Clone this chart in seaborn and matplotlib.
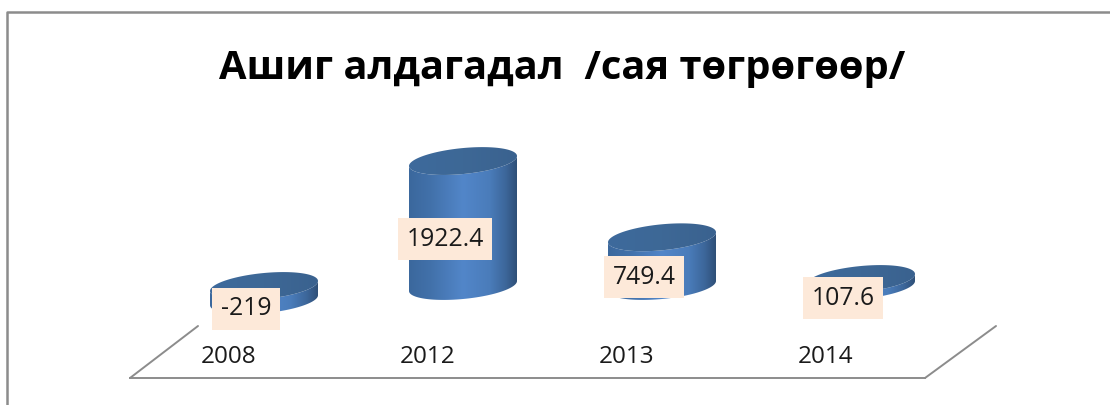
import numpy as np
import pandas as pd
import matplotlib
matplotlib.use("Agg")
import matplotlib.pyplot as plt
import seaborn as sns
from matplotlib.colors import LinearSegmentedColormap
from matplotlib.lines import Line2D
from matplotlib.patches import Polygon
from matplotlib.transforms import ScaledTranslation

years = ["2008", "2012", "2013", "2014"]
values = [-219, 1922.4, 749.4, 107.6]
title = "Ашиг алдагадал  /сая төгрөгөөр/"

W, H = 1110, 405
sns.set_theme(style="white")
plt.rcParams["font.family"] = ["Open Sans", "DejaVu Sans"]

fig = plt.figure(figsize=(W / 100, H / 100), dpi=100)
# axes frame: floor front edge is the x axis
L, R, B, T = 130, 925, 378, 100
ax = fig.add_axes([L / W, (H - B) / H, (R - L) / W, (B - T) / H])

step = 199.0      # px per category
scale = 0.065     # px per value unit
zero_y = 286
xlim = ((L - 264) / step, (R - 264) / step)
ylim = (-(B - zero_y) / scale, (zero_y - T) / scale)

df = pd.DataFrame({"year": years, "value": values})
sns.barplot(data=df, x="year", y="value", ax=ax, width=108 / step,
            color="#4f81bd", saturation=1, errorbar=None)
ax.set_xlabel("")
ax.set_ylabel("")
ax.set_yticks([])

for s in ["left", "right", "top"]:
    ax.spines[s].set_visible(False)
ax.spines["bottom"].set_color("#8c8c8c")
ax.spines["bottom"].set_linewidth(1.4)
ax.patch.set_alpha(0)

side_cmap = LinearSegmentedColormap.from_list(
    "side", [(0, "#3b689d"), (0.2, "#4271aa"), (0.5, "#5286c9"),
             (0.75, "#4a7cba"), (0.9, "#3c6699"), (1, "#2f5078")])
top_cmap = LinearSegmentedColormap.from_list(
    "top", ["#3d6a9c", "#3e6896", "#3a628f"])

ry_px, shear_px = 13.0, 5.0
ry = ry_px / scale
shear = shear_px / scale


def arc(cx, cy, a, t):
    return np.c_[cx + a * np.cos(t), cy + ry * np.sin(t) + shear * np.cos(t)]


for bar, v in zip(list(ax.patches), values):
    x0, w = bar.get_x(), bar.get_width()
    cx, a = x0 + w / 2, w / 2
    top, bot = max(v, 0), min(v, 0)
    bar.set_visible(False)

    front = np.linspace(np.pi, 2 * np.pi, 80)
    body = np.vstack([arc(cx, bot, a, front), arc(cx, top, a, front)[::-1]])
    clip = Polygon(body, closed=True, transform=ax.transData, fc="none", ec="none")
    ax.add_patch(clip)
    im = ax.imshow(np.linspace(0, 1, 256)[None, :], cmap=side_cmap, aspect="auto",
                   extent=(x0, x0 + w, bot - 2 * ry, top + 2 * ry), zorder=2)
    im.set_clip_path(clip)

    full = np.linspace(0, 2 * np.pi, 160)
    lid = Polygon(arc(cx, top, a, full), closed=True, transform=ax.transData,
                  fc="none", ec="none")
    ax.add_patch(lid)
    im2 = ax.imshow(np.linspace(0, 1, 64)[None, :], cmap=top_cmap, aspect="auto",
                    extent=(x0, x0 + w, top - 2 * ry, top + 2 * ry), zorder=3)
    im2.set_clip_path(lid)

    ax.annotate(f"{v:g}", xy=(cx, (top + bot) / 2), xytext=(-18 * .72, -15.5 * .72),
                textcoords="offset points", ha="center", va="center",
                fontsize=17.8, color="#1a1a1a", zorder=5,
                bbox=dict(boxstyle="square,pad=0.34", fc="#fde9d9", ec="none"))

ax.set_xlim(*xlim)
ax.set_ylim(*ylim)

# category labels sit left of bars, above the front floor edge
ax.tick_params(axis="x", length=0, pad=-23.5, labelsize=17.5, labelcolor="#1a1a1a")
shift = ScaledTranslation(-35 / 100, 0, fig.dpi_scale_trans)
for lab in ax.get_xticklabels():
    lab.set_transform(lab.get_transform() + shift)

fig.text(562 / W, 1 - 68.5 / H, title, ha="center", va="center",
         fontsize=28.7, fontweight="bold", color="black")


def px_line(xs, ys, lw=1.4, c="#8c8c8c"):
    fig.add_artist(Line2D(np.array(xs) / W, 1 - np.array(ys) / H,
                          color=c, lw=lw, transform=fig.transFigure))


px_line([130, 198], [378, 326])
px_line([925, 996], [378, 326])
px_line([7, 7, 1110], [405, 12, 12], lw=1.8)

fig.savefig("out.png", dpi=100, facecolor="white")
